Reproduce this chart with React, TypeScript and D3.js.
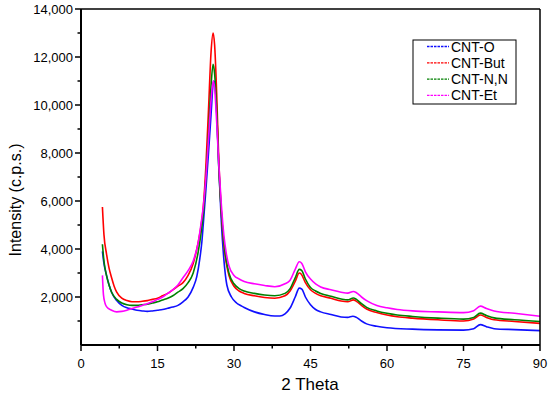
import React from "react";
import * as d3 from "d3";

const W = 550, H = 396;
const M = { left: 81, right: 540, top: 9, bottom: 345 };

const seriesNames = ["CNT-O", "CNT-But", "CNT-N,N", "CNT-Et"];
const seriesColors = ["#1010ff", "#ff0000", "#008000", "#ff00ff"];

const xTicks = [0, 15, 30, 45, 60, 75, 90];
const yTicks = [2000, 4000, 6000, 8000, 10000, 12000, 14000];

const cntO: [number, number][] = [
  [4.2, 3900], [4.5, 3400], [5, 2900], [5.5, 2500], [6, 2200], [7, 1850], [8, 1650], [9, 1550],
  [10, 1500], [11, 1450], [12, 1420], [13, 1400], [14, 1420], [15, 1450], [16, 1480], [17, 1530],
  [18, 1580], [19, 1650], [20, 1800], [21, 2000], [22, 2400], [22.7, 2850], [23.3, 3600], [23.7, 4300],
  [24, 5100], [24.5, 6500], [25, 8000], [25.5, 9600], [26, 11000], [26.3, 10800], [26.7, 9200],
  [27, 7500], [27.5, 5200], [28, 3600], [28.6, 2500], [29.5, 2000], [30.5, 1750], [31.5, 1620],
  [32, 1560], [34, 1380], [36, 1270], [38, 1210], [39, 1210], [40, 1300], [41, 1540], [42, 2000],
  [42.8, 2370], [43.3, 2330], [44, 2000], [45, 1680], [46, 1480], [47, 1380], [49, 1270], [51, 1170],
  [52.3, 1150], [53.3, 1200], [54, 1150], [55, 1000], [56, 880], [58, 780], [60, 720], [65, 660],
  [70, 630], [75, 620], [77, 680], [78.3, 850], [79.5, 760], [81, 680], [85, 640], [90, 600],
];

const cntBut: [number, number][] = [
  [4.2, 5750], [4.5, 4600], [5, 3800], [5.5, 3200], [6, 2800], [6.5, 2450], [7, 2200], [8, 1950],
  [9, 1850], [10, 1800], [11, 1800], [12, 1820], [13, 1850], [14, 1900], [15, 1950], [16, 2050],
  [17, 2150], [18, 2300], [19, 2450], [20, 2600], [21, 2900], [22, 3400], [22.5, 3800], [23, 4300],
  [23.5, 4900], [24, 5800], [24.5, 7500], [25, 9800], [25.5, 12200], [25.9, 13000], [26.2, 12500],
  [26.6, 10500], [27, 7800], [27.5, 5600], [28, 4200], [28.5, 3400], [29, 2900], [30, 2450],
  [31, 2250], [32, 2150], [34, 2050], [36, 1980], [38, 1950], [40, 2050], [41, 2250], [42, 2650],
  [42.8, 3000], [43.2, 2950], [44, 2600], [45, 2300], [46, 2150], [47, 2050], [49, 1950], [51, 1830],
  [52.3, 1800], [53.4, 1880], [54, 1820], [55, 1650], [56, 1500], [58, 1350], [60, 1250], [62, 1180],
  [65, 1120], [70, 1050], [75, 1000], [77, 1080], [78.3, 1250], [79.5, 1150], [81, 1050], [85, 980],
  [90, 900],
];

const cntNN: [number, number][] = [
  [4.2, 4200], [4.5, 3500], [5, 2900], [5.5, 2500], [6, 2200], [7, 1900], [8, 1750], [9, 1680],
  [10, 1650], [11, 1650], [12, 1680], [13, 1700], [14, 1750], [15, 1800], [16, 1880], [17, 1950],
  [18, 2050], [19, 2200], [20, 2350], [21, 2600], [22, 3000], [23, 3900], [23.5, 4600], [24, 5500],
  [24.5, 7000], [25, 8800], [25.5, 10800], [25.9, 11700], [26.2, 11300], [26.6, 9800], [27, 7500],
  [27.5, 5600], [28, 4300], [28.5, 3500], [29, 3000], [30, 2550], [31, 2350], [32, 2250], [34, 2150],
  [36, 2080], [38, 2050], [40, 2150], [41, 2350], [42, 2800], [42.8, 3150], [43.3, 3100], [44, 2750],
  [45, 2400], [46, 2250], [47, 2150], [49, 2030], [51, 1920], [52.3, 1880], [53.4, 1960], [54, 1900],
  [55, 1720], [56, 1570], [58, 1420], [60, 1320], [62, 1250], [65, 1190], [70, 1120], [75, 1080],
  [77, 1150], [78.3, 1330], [79.5, 1230], [81, 1130], [85, 1050], [90, 980],
];

const cntEt: [number, number][] = [
  [4.2, 2900], [4.4, 2100], [4.7, 1750], [5, 1600], [6, 1450], [7, 1380], [8, 1400], [9, 1450],
  [10, 1520], [11, 1580], [12, 1650], [13, 1720], [14, 1800], [15, 1900], [16, 2000], [17, 2150],
  [18, 2300], [19, 2500], [20, 2800], [21, 3100], [22, 3500], [23, 4300], [23.5, 5000], [24, 5800],
  [24.5, 7000], [25, 8600], [25.5, 10200], [25.9, 11000], [26.2, 10700], [26.6, 9300], [27, 7600],
  [27.5, 5900], [28, 4600], [28.5, 3800], [29, 3300], [30, 2900], [31, 2750], [32, 2650], [34, 2550],
  [36, 2480], [38, 2430], [40, 2550], [41, 2700], [42, 3150], [42.8, 3470], [43.3, 3400], [44, 3050],
  [45, 2750], [46, 2550], [47, 2420], [49, 2300], [51, 2200], [52.3, 2160], [53.4, 2230], [54, 2180],
  [55, 2000], [56, 1850], [58, 1650], [60, 1550], [62, 1480], [65, 1420], [70, 1380], [75, 1350],
  [77, 1430], [78.3, 1620], [79.5, 1520], [81, 1420], [85, 1320], [90, 1200],
];

const allSeries = [cntO, cntBut, cntNN, cntEt];

export default function App() {
  const x = d3.scaleLinear().domain([0, 90]).range([M.left, M.right]);
  const y = d3.scaleLinear().domain([0, 14000]).range([M.bottom, M.top]);
  const line = d3
    .line<[number, number]>()
    .x((d) => x(d[0]))
    .y((d) => y(d[1]))
    .curve(d3.curveMonotoneX);

  const xMinor = d3.range(0, 90.01, 7.5).filter((v) => !xTicks.includes(v));
  const yMinor = d3.range(1000, 14000, 2000);
  const font = "'Liberation Sans', Arial, sans-serif";

  const legX = 413, legY = 40, legW = 103, legH = 64;

  return (
    <svg width={W} height={H} style={{ position: "absolute", left: 0, top: 0, background: "#fff" }}>
      <rect x={0} y={0} width={W} height={H} fill="#fff" />
      {allSeries.map((s, i) => (
        <path key={i} d={line(s) || ""} fill="none" stroke={seriesColors[i]} strokeWidth={1.6} strokeLinejoin="round" />
      ))}
      <line x1={M.left} x2={M.right} y1={M.top} y2={M.top} stroke="#000" strokeWidth={1.5} />
      <line x1={M.right} x2={M.right} y1={M.top} y2={M.bottom} stroke="#000" strokeWidth={1.5} />
      <line x1={M.left} x2={M.left} y1={M.top} y2={M.bottom} stroke="#000" strokeWidth={2} />
      <line x1={M.left} x2={M.right} y1={M.bottom} y2={M.bottom} stroke="#000" strokeWidth={2} />
      {xTicks.map((t) => (
        <g key={"xt" + t}>
          <line x1={x(t)} x2={x(t)} y1={M.bottom} y2={M.bottom + 6} stroke="#000" strokeWidth={1.5} />
          <text x={x(t)} y={M.bottom + 23} textAnchor="middle" fontFamily={font} fontSize={13} fill="#000">
            {t}
          </text>
        </g>
      ))}
      {xMinor.map((t) => (
        <line key={"xm" + t} x1={x(t)} x2={x(t)} y1={M.bottom} y2={M.bottom + 3.5} stroke="#000" strokeWidth={1.5} />
      ))}
      {yTicks.map((t) => (
        <g key={"yt" + t}>
          <line x1={M.left - 6} x2={M.left} y1={y(t)} y2={y(t)} stroke="#000" strokeWidth={1.5} />
          <text x={M.left - 8} y={y(t)} dy="0.35em" textAnchor="end" fontFamily={font} fontSize={13} fill="#000">
            {d3.format(",")(t)}
          </text>
        </g>
      ))}
      {yMinor.map((t) => (
        <line key={"ym" + t} x1={M.left - 3.5} x2={M.left} y1={y(t)} y2={y(t)} stroke="#000" strokeWidth={1.5} />
      ))}
      <text x={310} y={390} textAnchor="middle" fontFamily={font} fontSize={17} fill="#000">
        2 Theta
      </text>
      <text
        transform={`translate(21,${200}) rotate(-90)`}
        textAnchor="middle"
        fontFamily={font}
        fontSize={16}
        fill="#000"
      >
        Intensity (c.p.s.)
      </text>
      <rect x={legX} y={legY} width={legW} height={legH} fill="#fff" stroke="#000" strokeWidth={1} />
      {seriesNames.map((n, i) => {
        const cy = legY + 6.5 + i * 16.3;
        return (
          <g key={n}>
            <line x1={legX + 14} x2={legX + 36} y1={cy} y2={cy} stroke={seriesColors[i]} strokeWidth={1.3} strokeDasharray="2.5,1" />
            <text x={legX + 38} y={cy} dy="0.36em" fontFamily={font} fontSize={14} fill="#000">
              {n}
            </text>
          </g>
        );
      })}
    </svg>
  );
}
